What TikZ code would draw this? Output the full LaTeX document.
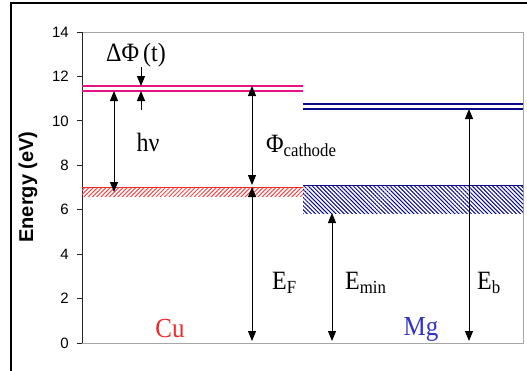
\documentclass[tikz,border=0pt]{standalone}
\usepackage{fontspec}
\setmainfont{Liberation Serif}
\setsansfont{Liberation Sans}
\usetikzlibrary{arrows.meta,patterns.meta}
\definecolor{cupink}{RGB}{230,20,130}
\definecolor{cured}{RGB}{240,40,40}
\definecolor{mgnavy}{RGB}{10,10,140}
\definecolor{mgblue}{RGB}{50,50,200}
\begin{document}
\begin{tikzpicture}[x=1pt,y=-1pt,
  lbl/.style={font=\fontsize{24}{27}\selectfont, inner sep=0pt, yscale=1.1},
  metal/.style={font=\fontsize{25}{28}\selectfont, inner sep=0pt, yscale=1.1},
  ticklbl/.style={font=\fontsize{15}{18}\sffamily, anchor=east, inner sep=0pt},
  arr/.style={-{Triangle[width=8pt,length=10pt]}, line width=1pt},
  darr/.style={{Triangle[width=8pt,length=10pt]}-{Triangle[width=8pt,length=10pt]}, line width=1pt},
  level/.style={line width=1.4pt}]
\useasboundingbox (0,0) rectangle (527,370);
% outer frame
\draw[line width=2pt] (11,375) -- (11,3) -- (530,3);
% plot area
\draw[gray!70, line width=1pt] (82,343) -- (523,343) -- (523,32) -- (82,32);
\draw[black!85, line width=1pt] (82,32) -- (82,343);
\foreach \e in {0,2,...,14}{
  \draw[black!85, line width=1pt] (77,{343-22.214*\e}) -- (82,{343-22.214*\e});
  \node[ticklbl] (t\e) at (69,{343-22.214*\e}) {\e};
}
% Cu bands
\fill[pattern={Lines[angle=45,distance=3pt,line width=1pt]}, pattern color=cured!85] (82,187) rectangle (303,196);
\draw[cured, line width=1pt] (82,187) -- (303,187);
\draw[cupink, level] (82,86) -- (303,86);
\draw[cupink, level] (82,91) -- (303,91);
% Mg bands
\fill[pattern={Lines[angle=-45,distance=2.9pt,line width=1pt]}, pattern color=mgnavy] (303,185) rectangle (523,213);
\draw[mgnavy, line width=1pt] (303,185) -- (523,185);
\draw[mgnavy, level] (303,104) -- (523,104);
\draw[mgnavy, level] (303,109) -- (523,109);
% coordinates
\coordinate (dpa) at (141,67);  \coordinate (dpb) at (141,86);
\coordinate (dpc) at (141,110); \coordinate (dpd) at (141,91);
\coordinate (hvt) at (114,91);  \coordinate (hvb) at (114,192);
\coordinate (pct) at (252,86);  \coordinate (pcb) at (252,185);
\coordinate (eft) at (252,187); \coordinate (efb) at (252,341);
\coordinate (emt) at (332,213); \coordinate (emb) at (332,341);
\coordinate (ebt) at (469,109); \coordinate (ebb) at (469,341);
% arrows
\draw[arr] (dpa) -- (dpb);
\draw[arr] (dpc) -- (dpd);
\draw[darr] (hvt) -- (hvb);
\draw[darr] (pct) -- (pcb);
\draw[darr] (eft) -- (efb);
\draw[darr] (emt) -- (emb);
\draw[darr] (ebt) -- (ebb);
% labels
\node[lbl] (ldphi) at (136,55) {ΔΦ\,(t)};
\node[lbl] (lhv) at (148,142) {hν};
\node[lbl, anchor=west] (lphi) at (266,146) {Φ\textsubscript{cathode}};
\node[lbl, anchor=west] (lef) at (272,283) {E\textsubscript{F}};
\node[lbl, anchor=west] (lem) at (345,283) {E\textsubscript{min}};
\node[lbl, anchor=west] (leb) at (477,283) {E\textsubscript{b}};
\node[metal, text=cured] (lcu) at (170,329) {Cu};
\node[metal, text=mgblue] (lmg) at (421,329) {Mg};
\node[rotate=90, font=\fontsize{20}{24}\sffamily\bfseries, inner sep=0pt] (lax) at (28,187) {Energy (eV)};
\end{tikzpicture}
\end{document}
